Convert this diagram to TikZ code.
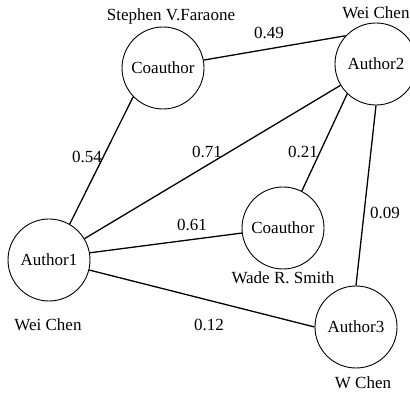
\documentclass[tikz,border=0pt]{standalone}
\usepackage{fontspec}
\setmainfont{Liberation Serif}
\usetikzlibrary{positioning}

\begin{document}
\begin{tikzpicture}[x=1pt, y=1pt,
  author/.style={draw, circle, line width=0.9pt, minimum size=82pt, inner sep=0pt, font=\fontsize{17}{20}\selectfont},
  authorname/.style={font=\fontsize{17}{20}\selectfont, inner sep=0pt},
  weightlabel/.style={font=\fontsize{17}{20}\selectfont, inner sep=0pt},
  link/.style={line width=1.3pt}
]
\useasboundingbox (0,0) rectangle (410,394);

% ==================== Authors and coauthors ====================
\node[author] (coauthor_top) at (163,326) {Coauthor};
\node[author] (author2) at (376,330) {Author2};
\node[author] (coauthor_mid) at (283,166) {Coauthor};
\node[author] (author1) at (49,134) {Author1};
\node[author] (author3) at (356,67) {Author3};

\node[authorname] (name_top) at (171,378) {Stephen V.Faraone};
\node[authorname] (name_a2) at (376,381) {Wei Chen};
\node[authorname] (name_mid) at (283,116) {Wade R. Smith};
\node[authorname] (name_a1) at (48,69) {Wei Chen};
\node[authorname] (name_a3) at (363,11) {W Chen};

% ==================== Links ====================
\draw[link] (coauthor_top.11) -- (author2.137);
\draw[link] (coauthor_top.224) -- (author1.60);
\draw[link] (author1.31) -- (author2.211);
\draw[link] (author2.226) -- (coauthor_mid.63);
\draw[link] (author2.south) -- (author3.north);
\draw[link] (author1.10) -- (coauthor_mid.187);
\draw[link] (author1.-14) -- (author3.west);

% ==================== Weights ====================
\node[weightlabel] (w_49) at (269,361) {0.49};
\node[weightlabel] (w_54) at (87,237) {0.54};
\node[weightlabel] (w_71) at (207,242) {0.71};
\node[weightlabel] (w_21) at (303,242) {0.21};
\node[weightlabel] (w_09) at (385,181) {0.09};
\node[weightlabel] (w_61) at (192,169) {0.61};
\node[weightlabel] (w_12) at (209,69) {0.12};

\end{tikzpicture}
\end{document}
